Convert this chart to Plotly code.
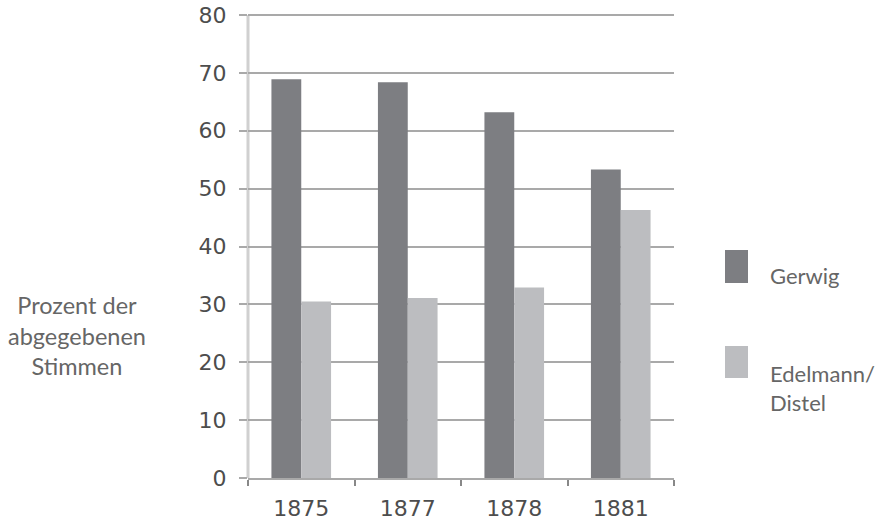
import plotly.graph_objects as go

years = ["1875", "1877", "1878", "1881"]
gerwig = [68.9, 68.4, 63.2, 53.3]
edelmann = [30.5, 31.1, 32.9, 46.3]
y_ticks = [0, 10, 20, 30, 40, 50, 60, 70, 80]

dark = "#7d7e82"
light = "#bcbdc0"
grid = "#a9a9a9"

# reference plot area in pixels (0 at y=478, 80 at y=15)
PX0, PX1, PY0, PY1 = 248, 674, 11, 478
PW, PH = PX1 - PX0, PY1 - PY0
UNIT = (478 - 15) / 80.0
YMAX = (PY1 - PY0) / UNIT

def px(x):
    return (x - PX0) / PW

def py(y):
    return (PY1 - y) / PH

fig = go.Figure()
fig.add_trace(go.Bar(x=years, y=gerwig, name="Gerwig", marker=dict(color=dark, line=dict(width=0))))
fig.add_trace(go.Bar(x=years, y=edelmann, name="Edelmann/<br>Distel", marker=dict(color=light, line=dict(width=0))))

fig.update_layout(
    width=886, height=530,
    margin=dict(l=PX0, r=886 - PX1, t=PY0, b=530 - PY1, autoexpand=False),
    paper_bgcolor="white", plot_bgcolor="white",
    barmode="group", bargap=0.44, bargroupgap=0,
    showlegend=False,
    font=dict(family="DejaVu Sans", color="#555555"),
)
fig.update_yaxes(
    range=[0, YMAX], tickvals=y_ticks, showgrid=True, gridcolor=grid, gridwidth=2,
    zeroline=False, showline=False,
    ticks="outside", ticklen=8, tickcolor=grid, tickwidth=2,
    tickfont=dict(family="DejaVu Sans", size=22, color="#4d4d4d"),
    ticklabelstandoff=8, ticklabeloverflow="allow",
)
fig.update_xaxes(
    showgrid=False, showline=True, linecolor=grid, linewidth=2,
    ticks="outside", tickson="boundaries", ticklen=6, tickcolor="#888888", tickwidth=2,
    tickfont=dict(family="DejaVu Sans", size=22, color="#4d4d4d"),
    ticklabelstandoff=10,
)

# light vertical axis line from 0 to 80 only
fig.add_shape(type="line", xref="paper", yref="y", x0=0, x1=0, y0=0, y1=y_ticks[-1],
              line=dict(color="#d0d0d0", width=3), layer="below")

# Y-axis description on the left
fig.add_annotation(
    text="Prozent der<br>abgegebenen<br>Stimmen", xref="paper", yref="paper",
    x=px(77), y=py(335), xanchor="center", yanchor="middle",
    showarrow=False, align="center",
    font=dict(family="Lato", size=23.5, color="#666666"),
)

# Legend drawn manually
legend_items = [("Gerwig", dark, 250, 283, 275), ("Edelmann/<br>Distel", light, 346, 378, 388)]
for label, col, y0, y1, ty in legend_items:
    fig.add_shape(type="rect", xref="paper", yref="paper",
                  x0=px(725), x1=px(748), y0=py(y1), y1=py(y0),
                  fillcolor=col, line=dict(width=0))
    fig.add_annotation(text=label, xref="paper", yref="paper",
                       x=px(768), y=py(ty), xanchor="left", yanchor="middle",
                       showarrow=False, align="left",
                       font=dict(family="Lato", size=22, color="#666666"))

fig.write_html("out.html", config={"displayModeBar": False},
               post_script="document.body.style.margin='0px';")
